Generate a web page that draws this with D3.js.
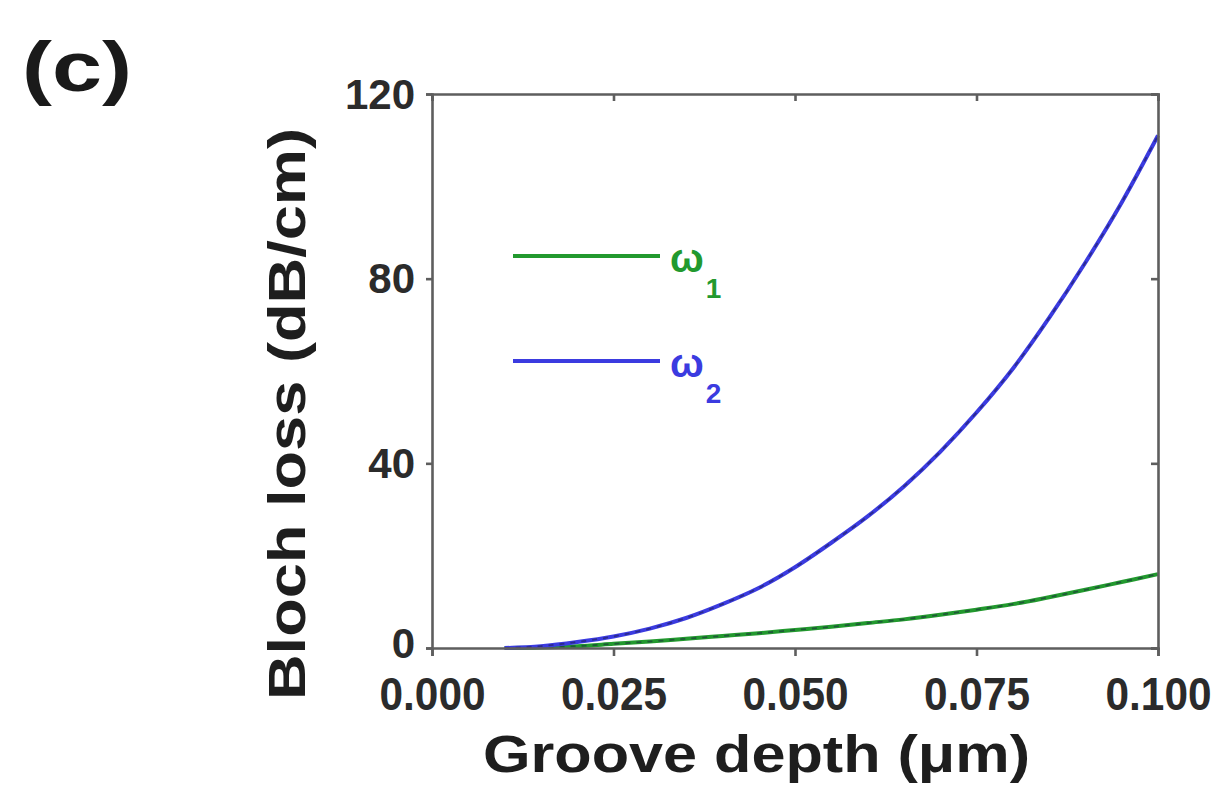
<!DOCTYPE html>
<html>
<head>
<meta charset="utf-8">
<script src="https://cdn.jsdelivr.net/npm/d3@7"></script>
<style>
  html, body { margin: 0; padding: 0; background: #fff; }
  svg text { font-family: "Liberation Sans", Arial, sans-serif; font-weight: bold; }
</style>
</head>
<body>
<svg id="chart" width="1224" height="791"></svg>
<script>
// Groove depth (µm) sample points
const depth = [0.010, 0.015, 0.020, 0.025, 0.030, 0.035, 0.040, 0.045, 0.050, 0.055,
               0.060, 0.065, 0.070, 0.075, 0.080, 0.085, 0.090, 0.095, 0.100];
// Bloch loss (dB/cm) for the two modes
const lossW1 = [0.0, 0.1, 0.4, 0.9, 1.4, 2.0, 2.6, 3.2, 3.9, 4.6,
                5.4, 6.2, 7.2, 8.3, 9.5, 11.0, 12.6, 14.3, 16.0];
const lossW2 = [0.0, 0.4, 1.3, 2.5, 4.2, 6.5, 9.5, 13.0, 17.5, 22.8,
                28.5, 35.0, 42.5, 51.0, 60.5, 71.5, 83.5, 96.5, 111.0];
const xTicks = [0.000, 0.025, 0.050, 0.075, 0.100];
const yTicks = [0, 40, 80, 120];
const seriesNames = ["1", "2"];
const seriesColors = ["#22992e", "#3b3be0"];

const svg = d3.select("#chart");
const mLeft = 432, mRight = 1158, mTop = 94, mBottom = 648;

const x = d3.scaleLinear().domain([0, 0.1]).range([mLeft, mRight]);
const y = d3.scaleLinear().domain([0, 120]).range([mBottom, mTop]);

const axisColor = "#5e5e5e";
const tickColor = "#2b2b2b";

// panel letter
svg.append("text").attr("x", 22).attr("y", 91)
  .attr("font-size", 71).attr("fill", "#1a1a1a")
  .attr("textLength", 110).attr("lengthAdjust", "spacingAndGlyphs")
  .text("(c)");

// curves: coloured stroke with a dark dashed overlay
const series = [lossW1, lossW2];
const line = d3.line().x((d, i) => x(depth[i])).y(d => y(d)).curve(d3.curveMonotoneX);
const plot = svg.append("g");
series.forEach((vals, k) => {
  plot.append("path").datum(vals).attr("d", line)
    .attr("fill", "none").attr("stroke", seriesColors[k]).attr("stroke-width", 4);
  plot.append("path").datum(vals).attr("d", line)
    .attr("fill", "none").attr("stroke", "#1a1a40").attr("stroke-opacity", 0.5)
    .attr("stroke-width", 1.8).attr("stroke-dasharray", "5,6");
});

// axes
const gx = svg.append("g").attr("transform", `translate(0,${mBottom})`)
  .call(d3.axisBottom(x).tickValues(xTicks).tickFormat(d3.format(".3f")).tickSize(8).tickPadding(21));
const gy = svg.append("g").attr("transform", `translate(${mLeft},0)`)
  .call(d3.axisLeft(y).tickValues(yTicks).tickFormat(d3.format("d")).tickSize(6).tickPadding(11));
const gt = svg.append("g").attr("transform", `translate(0,${mTop})`)
  .call(d3.axisBottom(x).tickValues(xTicks).tickFormat("").tickSize(7));
const gr = svg.append("g").attr("transform", `translate(${mRight},0)`)
  .call(d3.axisLeft(y).tickValues(yTicks).tickFormat("").tickSize(7));

[gx, gy, gt, gr].forEach(g => {
  g.select(".domain").attr("stroke", axisColor).attr("stroke-width", 2.6);
  g.selectAll(".tick line").attr("stroke", axisColor).attr("stroke-width", 2.6);
  g.selectAll(".tick text").attr("fill", tickColor)
    .attr("font-family", "'Liberation Sans', Arial, sans-serif")
    .attr("font-weight", "bold").attr("font-size", 42);
});
// tall, slightly condensed tick numerals along the bottom
gx.selectAll(".tick text").attr("font-size", 47).attr("dy", "0.71em")
  .attr("textLength", 106).attr("lengthAdjust", "spacingAndGlyphs");
gy.selectAll(".tick text").attr("dy", d => d === 0 ? "0.22em" : "0.34em");

// axis titles
svg.append("text").attr("x", 483).attr("y", 772)
  .attr("font-size", 51).attr("fill", "#1e1e1e")
  .attr("textLength", 547).attr("lengthAdjust", "spacingAndGlyphs")
  .text("Groove depth (\u03bcm)");
svg.append("text")
  .attr("transform", "translate(305,700) rotate(-90)")
  .attr("font-size", 51).attr("fill", "#1e1e1e")
  .attr("textLength", 572).attr("lengthAdjust", "spacingAndGlyphs")
  .text("Bloch loss (dB/cm)");

// legend
const legY = [256, 361];
const leg = svg.append("g");
seriesNames.forEach((n, k) => {
  leg.append("line").attr("x1", 513).attr("x2", 660).attr("y1", legY[k]).attr("y2", legY[k])
    .attr("stroke", seriesColors[k]).attr("stroke-width", 4);
  const t = leg.append("text").attr("x", 670).attr("y", legY[k] + 16)
    .attr("font-size", 40).attr("fill", seriesColors[k]);
  t.append("tspan").text("\u03c9");
  t.append("tspan").attr("dy", 26).attr("dx", 2).attr("font-size", 28).text(n);
});
</script>
</body>
</html>
